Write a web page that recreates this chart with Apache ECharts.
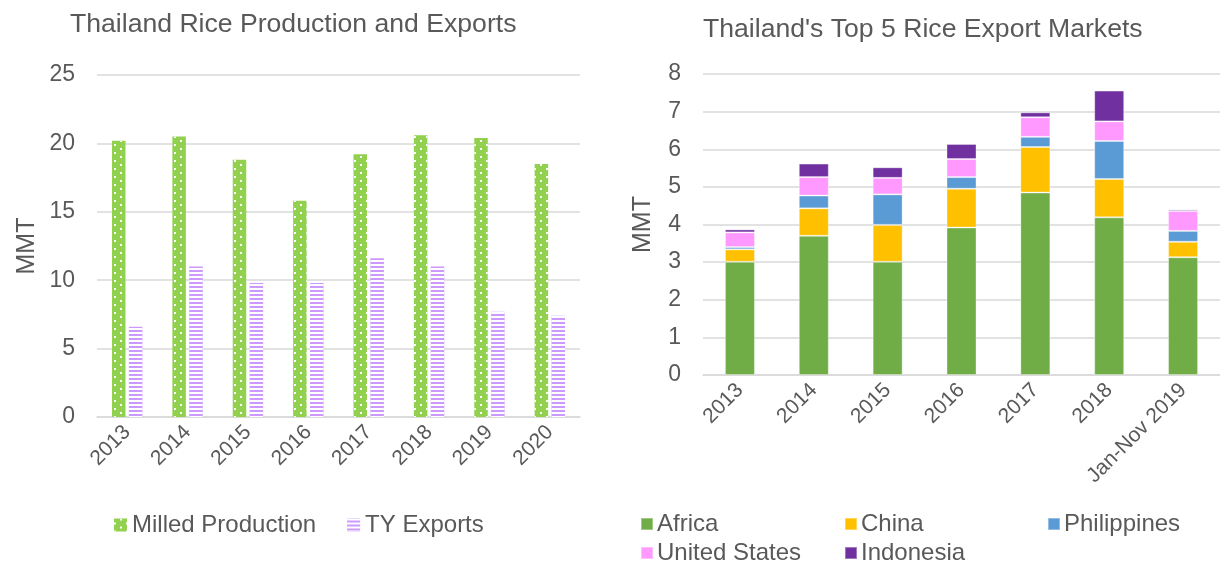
<!DOCTYPE html>
<html>
<head>
<meta charset="utf-8">
<script src="https://cdn.jsdelivr.net/npm/echarts@6/dist/echarts.min.js"></script>
<style>
  html, body { margin: 0; padding: 0; background: #fff; }
  #chart { width: 1220px; height: 563px; }
</style>
</head>
<body>
<div id="chart"></div>
<script>
// left chart: production vs exports
var years = ['2013', '2014', '2015', '2016', '2017', '2018', '2019', '2020']
var milledProduction = [20.2, 20.5, 18.8, 15.8, 19.2, 20.6, 20.4, 18.5]
var tyExports = [6.6, 11.0, 9.8, 9.8, 11.6, 11.0, 7.7, 7.4]
var leftTicks = [0, 5, 10, 15, 20, 25]

// right chart: top 5 markets
var marketYears = ['2013', '2014', '2015', '2016', '2017', '2018', 'Jan-Nov 2019']
var africa = [3.01, 3.70, 3.01, 3.92, 4.85, 4.19, 3.13]
var china = [0.33, 0.73, 0.98, 1.03, 1.21, 1.02, 0.41]
var philippines = [0.06, 0.34, 0.81, 0.31, 0.27, 1.01, 0.29]
var unitedStates = [0.39, 0.49, 0.44, 0.48, 0.52, 0.52, 0.53]
var indonesia = [0.08, 0.36, 0.28, 0.40, 0.13, 0.82, 0.04]
var rightTicks = [0, 1, 2, 3, 4, 5, 6, 7, 8]

var font = 'Liberation Sans, Arial, sans-serif'
var textColor = '#595959'
var gridColor = '#d9d9d9'

var markets = [
  { name: 'Africa', data: africa, color: '#70AD47', left: 640, top: 512 },
  { name: 'China', data: china, color: '#FFC000', left: 844, top: 512 },
  { name: 'Philippines', data: philippines, color: '#5B9BD5', left: 1047, top: 512 },
  { name: 'United States', data: unitedStates, color: '#FF99FF', left: 640, top: 541 },
  { name: 'Indonesia', data: indonesia, color: '#7030A0', left: 844, top: 541 }
]

function valueAxis (ticks, gridIndex, nameGap) {
  return {
    type: 'value',
    gridIndex: gridIndex,
    min: ticks[0],
    max: ticks[ticks.length - 1],
    interval: ticks[1] - ticks[0],
    name: 'MMT',
    nameLocation: 'middle',
    nameGap: nameGap,
    nameTextStyle: { color: textColor, fontSize: 25, fontFamily: font },
    axisLine: { show: false },
    axisTick: { show: false },
    axisLabel: { color: textColor, fontSize: 23, fontFamily: font, margin: 22 },
    splitLine: { lineStyle: { color: gridColor, width: 1.5 } }
  }
}

function categoryAxis (data, gridIndex) {
  return {
    type: 'category',
    gridIndex: gridIndex,
    data: data,
    axisLine: { lineStyle: { color: gridColor, width: 1.5 } },
    axisTick: { show: false },
    axisLabel: { color: textColor, fontSize: 21, fontFamily: font, rotate: 45, margin: 12, interval: 0 }
  }
}

var legends = [{
  left: 114,
  top: 513,
  padding: 0,
  itemWidth: 13,
  itemHeight: 13,
  itemGap: 31,
  icon: 'rect',
  textStyle: { color: textColor, fontSize: 24, fontFamily: font },
  data: ['Milled Production', 'TY Exports']
}]
markets.forEach(function (m) {
  legends.push({
    left: m.left,
    top: m.top,
    padding: 0,
    itemWidth: 12,
    itemHeight: 12,
    icon: 'rect',
    textStyle: { color: textColor, fontSize: 24, fontFamily: font, padding: [0, 0, 0, -1] },
    data: [m.name]
  })
})

var series = [{
  name: 'Milled Production',
  type: 'bar',
  xAxisIndex: 0,
  yAxisIndex: 0,
  barWidth: 13.5,
  barGap: '25%',
  data: milledProduction,
  itemStyle: {
    color: '#92D050',
    decal: {
      symbol: 'rect',
      symbolSize: 1,
      color: '#ffffff',
      dashArrayX: [[2, 10], [0, 6, 2, 4]],
      dashArrayY: [2, 2],
      rotation: 0
    }
  }
}, {
  name: 'TY Exports',
  type: 'bar',
  xAxisIndex: 0,
  yAxisIndex: 0,
  barWidth: 13.5,
  data: tyExports,
  itemStyle: {
    color: '#CC99FF',
    decal: {
      symbol: 'rect',
      symbolSize: 1,
      color: '#ffffff',
      dashArrayX: [1, 0],
      dashArrayY: [2, 2],
      rotation: 0
    }
  }
}]
markets.forEach(function (m) {
  series.push({
    name: m.name,
    type: 'bar',
    stack: 'markets',
    xAxisIndex: 1,
    yAxisIndex: 1,
    barWidth: 30,
    data: m.data,
    itemStyle: { color: m.color, borderColor: 'rgba(255,255,255,0.35)', borderWidth: 1 }
  })
})

var myChart = echarts.init(document.getElementById('chart'))
myChart.setOption({
  animation: false,
  title: [{
    text: 'Thailand Rice Production and Exports',
    left: 65,
    top: 6,
    textStyle: { color: textColor, fontSize: 26.6, fontWeight: 'normal', fontFamily: font }
  }, {
    text: "Thailand's Top 5 Rice Export Markets",
    left: 698,
    top: 11,
    textStyle: { color: textColor, fontSize: 26.6, fontWeight: 'normal', fontFamily: font }
  }],
  legend: legends,
  grid: [
    { left: 97, right: 640, top: 75, bottom: 146 },
    { left: 703, right: 0, top: 74, bottom: 188 }
  ],
  xAxis: [categoryAxis(years, 0), categoryAxis(marketYears, 1)],
  yAxis: [valueAxis(leftTicks, 0, 57), valueAxis(rightTicks, 1, 47)],
  series: series
})
</script>
</body>
</html>
